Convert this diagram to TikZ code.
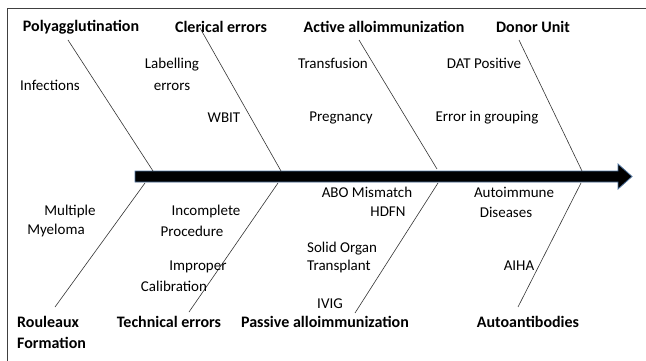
\documentclass[tikz,border=0pt]{standalone}
\usepackage{fontspec}
\setmainfont{Carlito}
\usetikzlibrary{arrows.meta, positioning, calc}
\definecolor{SpineBlue}{rgb}{0.31, 0.45, 0.62}
\definecolor{framegray}{rgb}{0.25, 0.25, 0.25}

\tikzset{
  cause/.style={font=\fontsize{16}{21}\selectfont\bfseries, inner sep=0pt},
  item/.style={font=\fontsize{15}{20}\selectfont, inner sep=0pt, align=center},
  bone/.style={draw=black!80, line width=0.6pt}
}

\begin{document}
\begin{tikzpicture}[>=Stealth, x=1pt, y=-1pt]
        \useasboundingbox (0,0) rectangle (646,361);
        % Frame
        \draw [framegray, line width=1pt] (7,361) -- (7,9) -- (646,9);

        % Spine
        \filldraw [fill=black, draw=SpineBlue, line width=0.8pt]
          (135,171) -- (618,171) -- (618,164) -- (632,176.5) -- (618,189) -- (618,182) -- (135,182) -- cycle;

        % Causes
        \node [cause] (poly) at (81,27) {Polyagglutination};
        \node [cause] (cler) at (221,27) {Clerical errors};
        \node [cause] (act) at (384,27) {Active alloimmunization};
        \node [cause] (donor) at (533,27) {Donor Unit};
        \node [cause, align=left, anchor=west] (roul) at (17,332) {Rouleaux\\Formation};
        \node [cause] (tech) at (169,322) {Technical errors};
        \node [cause] (pass) at (325,322) {Passive alloimmunization};
        \node [cause] (auto) at (528,322) {Autoantibodies};

        % Bones
        \coordinate (p1) at (68,40);   \coordinate (q1) at (153,171);
        \coordinate (p2) at (200,28);  \coordinate (q2) at (281,171);
        \coordinate (p3) at (359,40);  \coordinate (q3) at (437,169);
        \coordinate (p4) at (519,40);  \coordinate (q4) at (582,171);
        \coordinate (p5) at (55,307);  \coordinate (q5) at (145,183);
        \coordinate (p6) at (189,312); \coordinate (q6) at (278,183);
        \coordinate (p7) at (355,313); \coordinate (q7) at (438,183);
        \coordinate (p8) at (518,307); \coordinate (q8) at (581,183);
        \foreach \i in {1,...,8}
          \draw [bone] (p\i) -- (q\i);

        % Sub-causes, top
        \node [item] (inf) at (50,85) {Infections};
        \node [item, font=\fontsize{15}{22}\selectfont] (lab) at (172,74) {Labelling\\errors};
        \node [item] (wbit) at (224,118) {WBIT};
        \node [item] (trans) at (333,63) {Transfusion};
        \node [item] (preg) at (341,118) {Pregnancy};
        \node [item] (dat) at (484,63) {DAT Positive};
        \node [item] (err) at (487,118) {Error in grouping};

        % Sub-causes, bottom
        \node [item] (mult) at (70,212) {Multiple};
        \node [item] (mye) at (56,231) {Myeloma};
        \node [item] (inc) at (206,212) {Incomplete};
        \node [item] (proc) at (192,231) {Procedure};
        \node [item] (impr) at (198,267) {Improper};
        \node [item] (cal) at (174,286) {Calibration};
        \node [item] (abo) at (367,192) {ABO Mismatch};
        \node [item] (hdfn) at (388,212) {HDFN};
        \node [item, align=left, anchor=west, font=\fontsize{15}{18}\selectfont] (solid) at (307,257) {Solid Organ\\Transplant};
        \node [item] (ivig) at (330,304) {IVIG};
        \node [item] (aim) at (514,192) {Autoimmune};
        \node [item] (dis) at (506,212) {Diseases};
        \node [item] (aiha) at (519,266) {AIHA};
    \end{tikzpicture}
\end{document}
